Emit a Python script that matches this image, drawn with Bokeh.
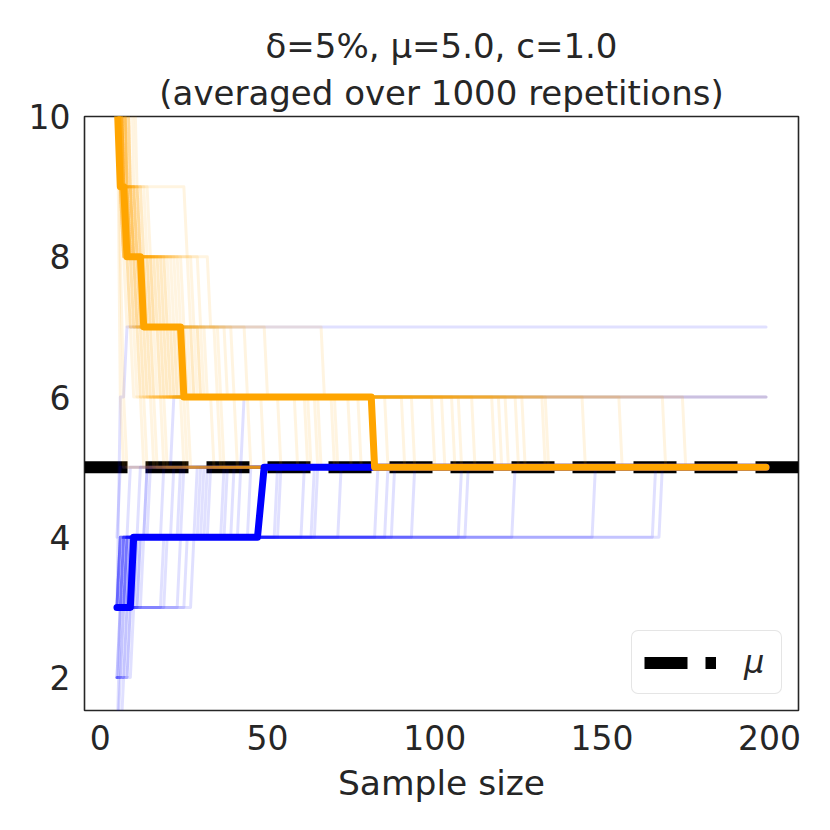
from bokeh.plotting import figure
from bokeh.models import Legend, LegendItem, FixedTicker, Range1d, Title
from bokeh.embed import file_html
from bokeh.resources import INLINE

# ---------------- data ----------------
MU = 5.0
sample_sizes = list(range(5, 200))

x_ticks = [0, 50, 100, 150, 200]
y_ticks = [2, 4, 6, 8, 10]

# thick (summary) bounds: step breakpoints (sample size, value)
upper_main = [(5, 10.3), (6, 9), (8, 8), (13, 7), (25, 6), (82, 5)]
lower_main = [(5, 3), (10, 4), (48, 4.5), (49, 5)]

# faint upper bounds of single repetitions:
# (start value, first n at 9, at 8, at 7, at 6, at 5)
upper_reps = [
    (11, 6, 6, 6, 6, 7), (12, 6, 6, 7, 7, 8), (11, 6, 7, 8, 10, 13),
    (11, 7, 7, 9, 11, 14), (12, 6, 8, 10, 12, 16), (11, 7, 9, 11, 13, 17),
    (11, 8, 8, 10, 14, 19), (12, 6, 8, 12, 15, 20), (11, 7, 10, 13, 18, 25),
    (11, 9, 11, 14, 20, 26), (12, 6, 7, 11, 16, 27), (11, 8, 9, 15, 22, 34),
    (11, 7, 12, 16, 24, 36), (12, 6, 26, 27, 28, 37), (11, 7, 8, 33, 35, 41),
    (12, 6, 9, 17, 30, 45), (11, 8, 10, 18, 26, 49), (11, 6, 7, 9, 67, 71),
    (11, 7, 9, 12, 19, 54), (12, 8, 11, 20, 28, 59), (11, 6, 7, 9, 14, 62),
    (11, 7, 10, 15, 21, 63), (11, 9, 12, 19, 30, 65), (12, 6, 8, 13, 17, 66),
    (11, 7, 9, 22, 40, 70), (11, 8, 13, 24, 31, 75), (12, 6, 7, 10, 12, 78),
    (11, 7, 11, 14, 23, 86), (11, 6, 9, 16, 25, 91), (12, 10, 14, 28, 44, 94),
    (11, 7, 8, 11, 13, 100), (11, 8, 10, 12, 16, 103), (12, 6, 9, 18, 27, 106),
    (11, 7, 12, 21, 29, 108), (11, 9, 10, 13, 24, 112), (12, 6, 8, 15, 19, 118),
    (11, 7, 11, 17, 22, 120), (11, 8, 9, 11, 15, 122), (12, 6, 10, 23, 32, 125),
    (11, 7, 13, 30, 50, 127), (11, 11, 15, 19, 26, 133), (12, 6, 7, 12, 18, 134),
    (11, 8, 10, 14, 20, 145), (11, 7, 9, 20, 36, 156), (12, 6, 11, 25, 38, 169),
    (11, 9, 12, 16, 21, 175), (11, 7, 8, 13, 23, None),
]
upper_levels = [9, 8, 7, 6, 5]

# faint lower bounds of single repetitions: step breakpoints (n, value)
lower_reps = [
    [(5, 4), (6, 5)],
    [(5, 3), (6, 4), (9, 5)],
    [(5, 3), (7, 4), (12, 5)],
    [(5, 2), (7, 3), (8, 4), (14, 5)],
    [(5, 3), (6, 4), (15, 5)],
    [(5, 3), (8, 4), (19, 5)],
    [(5, 2), (6, 3), (9, 4), (22, 5)],
    [(5, 3), (7, 4), (24, 5)],
    [(5, 1), (6, 2), (8, 3), (10, 4), (25, 5)],
    [(5, 3), (12, 4), (29, 5)],
    [(5, 3), (9, 4), (31, 5)],
    [(5, 2), (7, 3), (13, 4), (32, 5)],
    [(5, 3), (6, 4), (33, 5)],
    [(5, 3), (8, 4), (37, 5)],
    [(5, 2), (9, 3), (19, 4), (38, 5)],
    [(5, 3), (7, 4), (40, 5)],
    [(5, 3), (10, 4), (42, 5)],
    [(5, 1), (7, 2), (9, 3), (20, 4), (45, 5)],
    [(5, 3), (6, 4), (53, 5)],
    [(5, 3), (9, 4), (54, 5)],
    [(5, 2), (8, 3), (24, 4), (61, 5)],
    [(5, 3), (7, 4), (64, 5)],
    [(5, 3), (11, 4), (65, 5)],
    [(5, 3), (26, 4), (72, 5)],
    [(5, 2), (6, 3), (8, 4), (83, 5)],
    [(5, 3), (10, 4), (86, 5)],
    [(5, 3), (28, 4), (88, 5)],
    [(5, 3), (7, 4), (94, 5)],
    [(5, 2), (10, 3), (12, 4), (108, 5)],
    [(5, 3), (6, 4), (110, 5)],
    [(5, 3), (9, 4), (124, 5)],
    [(5, 3), (8, 4), (148, 5)],
    [(5, 1), (6, 3), (11, 4), (166, 5)],
    [(5, 3), (7, 4), (168, 5)],
    [(5, 3), (6, 4), (14, 5), (22, 6)],
    [(5, 3), (8, 4), (30, 5), (43, 6)],
    [(5, 3), (6, 6), (8, 7)],
]

title_line1 = "δ=5%, μ=5.0, c=1.0"
title_line2 = "(averaged over 1000 repetitions)"


def expand(breaks):
    vals = []
    for n in sample_sizes:
        level = breaks[0][1]
        for bx, bv in breaks:
            if bx <= n:
                level = bv
        vals.append(level)
    return vals


def upper_breaks(rep):
    b = [(5, rep[0])]
    for lvl, bx in zip(upper_levels, rep[1:]):
        if bx is not None:
            b.append((bx, lvl))
    return b


# ---------------- figure ----------------
FONT = "DejaVu Sans"
TXT = "#262626"
W = 822
FRAME_L, FRAME_R = 84, 798
TS = 34

p = figure(width=W, height=816, x_range=Range1d(-4.7, 208.7), y_range=Range1d(1.53, 10),
           output_backend="svg", toolbar_location=None,
           min_border_left=FRAME_L, min_border_top=116, min_border_right=W - FRAME_R,
           min_border_bottom=106)
# two centred title lines (the later-added one sits closest to the frame)
p.title = Title(text=title_line1, align="center", text_font=FONT,
                text_font_size=f"{TS}px", text_font_style="normal", text_color=TXT,
                standoff=1)
p.add_layout(Title(text=title_line2, align="center", text_font=FONT,
                   text_font_size=f"{TS}px", text_font_style="normal", text_color=TXT,
                   standoff=8), "above")
p.background_fill_color = "white"
p.border_fill_color = "white"
p.grid.visible = False
p.outline_line_color = TXT
p.outline_line_width = 1.6

for ax in (p.xaxis[0], p.yaxis[0]):
    ax.axis_line_color = None
    ax.major_tick_in = 0
    ax.major_tick_out = 0
    ax.minor_tick_in = 0
    ax.minor_tick_out = 0
    ax.major_label_text_font = FONT
    ax.major_label_text_font_size = "33px"
    ax.major_label_text_color = TXT
p.xaxis.ticker = FixedTicker(ticks=x_ticks)
p.yaxis.ticker = FixedTicker(ticks=y_ticks)
p.xaxis.major_label_standoff = 14
p.yaxis.major_label_standoff = 14
p.xaxis.axis_label = "Sample size"
p.xaxis.axis_label_text_font = FONT
p.xaxis.axis_label_text_font_size = "34.5px"
p.xaxis.axis_label_text_font_style = "normal"
p.xaxis.axis_label_text_color = TXT
p.xaxis.axis_label_standoff = 10

# mu reference line across the whole axis (drawn first, under the bounds)
xr = p.x_range
mu_r = p.line(x=[xr.start, xr.end], y=[MU, MU], line_color="black", line_width=12,
              line_dash="43 18", line_cap="butt")

xs_low = [sample_sizes for _ in lower_reps]
ys_low = [expand(b) for b in lower_reps]
p.multi_line(xs=xs_low, ys=ys_low, line_color="blue", line_alpha=0.12, line_width=3,
             line_cap="round", line_join="round")

xs_up = [sample_sizes for _ in upper_reps]
ys_up = [expand(upper_breaks(r)) for r in upper_reps]
p.multi_line(xs=xs_up, ys=ys_up, line_color="orange", line_alpha=0.12, line_width=3,
             line_cap="round", line_join="round")

p.line(sample_sizes, expand(lower_main), line_color="blue", line_width=7,
       line_cap="round", line_join="round")
p.line(sample_sizes, expand(upper_main), line_color="orange", line_width=7,
       line_cap="round", line_join="round")

legend = Legend(items=[LegendItem(label="μ", renderers=[mu_r])], location="bottom_right")
legend.margin = 16
legend.padding = 12
legend.glyph_width = 72
legend.glyph_height = 31
legend.label_height = 31
legend.label_width = 25
legend.label_standoff = 28
legend.label_text_font = FONT
legend.label_text_font_size = "32px"
legend.label_text_font_style = "italic"
legend.label_text_color = TXT
legend.border_line_color = "#cccccc"
legend.border_line_width = 1.5
legend.background_fill_alpha = 0.8
try:
    legend.border_radius = 7
except AttributeError:
    pass
p.add_layout(legend)

open("out.html", "w").write(file_html(p, INLINE))
